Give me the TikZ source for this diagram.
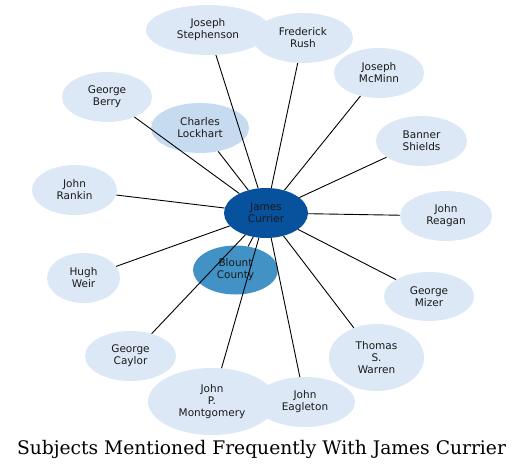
\documentclass[tikz,border=0pt]{standalone}
\usepackage{fontspec}
\setmainfont{DejaVu Sans}
\newfontfamily\titlefont{DejaVu Serif}
\usetikzlibrary{shapes.geometric}
\definecolor{lightnode}{HTML}{DCE8F5}
\definecolor{midnode}{HTML}{C6DBEF}
\definecolor{blountc}{HTML}{4292C6}
\definecolor{centerc}{HTML}{08519C}
\definecolor{txtc}{HTML}{1A1A1A}
\tikzset{
  person/.style={ellipse, fill=lightnode, draw=none, inner sep=0pt, align=center,
    font=\fontsize{10.5}{12}\selectfont, text=txtc},
  link/.style={draw=black, line width=0.9pt}
}
\begin{document}
\begin{tikzpicture}[x=1pt,y=-1pt]
\useasboundingbox (0,0) rectangle (524,470);
\node[person, minimum width=124, minimum height=50] (steph) at (208,30) {Joseph\\Stephenson};
\node[person, minimum width=100, minimum height=50] (rush) at (303,38) {Frederick\\Rush};
\node[person, minimum width=90, minimum height=50] (mcminn) at (379,73) {Joseph\\McMinn};
\node[person, minimum width=90, minimum height=50] (berry) at (107,97) {George\\Berry};
\node[person, fill=midnode, minimum width=98, minimum height=50] (lock) at (200,128) {Charles\\Lockhart};
\node[person, minimum width=91, minimum height=50] (shields) at (421.5,141) {Banner\\Shields};
\node[person, minimum width=85, minimum height=50] (rankin) at (74.5,190) {John\\Rankin};
\node[person, minimum width=92, minimum height=50] (reagan) at (446,216) {John\\Reagan};
\node[person, fill=centerc, minimum width=84, minimum height=50] (cur) at (266,213) {James\\Currier};
\node[person, fill=blountc, minimum width=85, minimum height=49] (blount) at (235.5,270) {Blount\\County};
\node[person, minimum width=73, minimum height=50] (weir) at (83.5,278) {Hugh\\Weir};
\node[person, minimum width=90, minimum height=49] (mizer) at (429,296.5) {George\\Mizer};
\node[person, minimum width=91, minimum height=50] (caylor) at (130.5,356) {George\\Caylor};
\node[person, minimum width=95, minimum height=67] (warren) at (376.5,357.5) {Thomas\\S.\\Warren};
\node[person, minimum width=100, minimum height=50] (eagle) at (305,402) {John\\Eagleton};
\node[person, minimum width=128, minimum height=67] (mont) at (212,401.5) {John\\P.\\Montgomery};
\node[font=\titlefont\fontsize{18.7}{21}\selectfont, text=black, inner sep=0pt] (title) at (261.5,449) {Subjects Mentioned Frequently With James Currier};
\foreach \n in {steph,rush,mcminn,berry,lock,shields,rankin,reagan,blount,weir,mizer,caylor,warren,eagle,mont}
  \draw[link] (cur) -- (\n);
\end{tikzpicture}
\end{document}
